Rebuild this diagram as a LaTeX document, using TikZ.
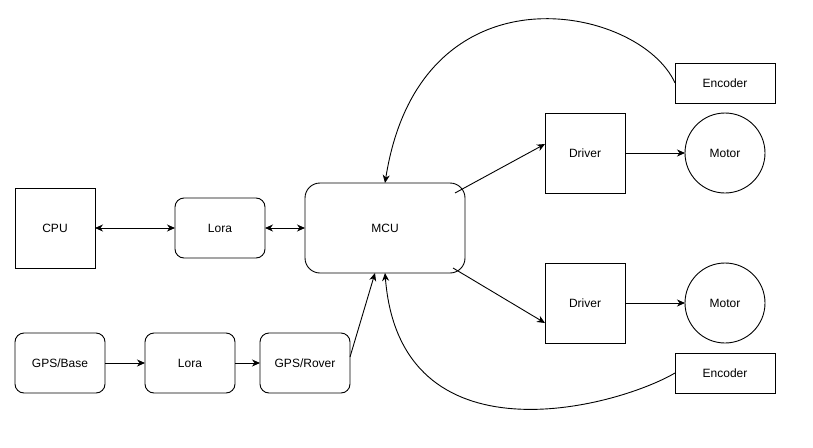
\documentclass[tikz,border=0pt]{standalone}
\usepackage{fontspec}
\setmainfont{Liberation Sans}
\usetikzlibrary{arrows.meta,calc}
\begin{document}
\begin{tikzpicture}[x=1pt,y=-1pt,line width=0.9pt,
  >={Stealth[length=8pt,width=7pt,inset=2.5pt]},
  every node/.style={font=\fontsize{12}{14}\selectfont, inner sep=0pt, outer sep=0pt},
  sbox/.style={draw, rectangle},
  rbox/.style={draw, rectangle, rounded corners=9pt},
  mbox/.style={draw, circle, minimum size=80pt}]
\useasboundingbox (0,0) rectangle (813,447);
% nodes
\node[sbox, minimum width=80pt, minimum height=80pt] (cpu) at (55,228) {CPU};
\node[rbox, minimum width=90pt, minimum height=60pt] (lora1) at (220,228) {Lora};
\node[rbox, rounded corners=15pt, minimum width=160pt, minimum height=90pt] (mcu) at (385,228) {MCU};
\node[sbox, minimum width=80pt, minimum height=80pt] (drv1) at (585,153) {Driver};
\node[sbox, minimum width=80pt, minimum height=80pt] (drv2) at (585,303) {Driver};
\node[mbox] (mot1) at (725,153) {Motor};
\node[mbox] (mot2) at (725,303) {Motor};
\node[sbox, minimum width=100pt, minimum height=40pt] (enc1) at (725,83) {Encoder};
\node[sbox, minimum width=100pt, minimum height=40pt] (enc2) at (725,373) {Encoder};
\node[rbox, minimum width=90pt, minimum height=60pt] (gpsb) at (60,363) {GPS/Base};
\node[rbox, minimum width=90pt, minimum height=60pt] (lora2) at (190,363) {Lora};
\node[rbox, minimum width=90pt, minimum height=60pt] (gpsr) at (305,363) {GPS/Rover};
% connectors
\draw[<->] (cpu.east) -- (lora1.west);
\draw[<->] (lora1.east) -- (mcu.west);
\draw[->] ($(mcu.center)+(70,-35)$) -- ($(drv1.west)+(0,-9)$);
\draw[->] ($(mcu.center)+(68,40)$) -- ($(drv2.west)+(0,20)$);
\draw[->] (drv1.east) -- (mot1.west);
\draw[->] (drv2.east) -- (mot2.west);
\draw[->] (gpsb.east) -- (lora2.west);
\draw[->] (lora2.east) -- (gpsr.west);
\draw[->] ($(gpsr.east)+(0,-6)$) -- ($(mcu.south)+(-10,0)$);
\draw[->] (enc1.west) .. controls (640,5) and (420,-40) .. (mcu.north);
\draw[->] (enc2.west) .. controls (615,408) and (400,465) .. (mcu.south);
\end{tikzpicture}
\end{document}
